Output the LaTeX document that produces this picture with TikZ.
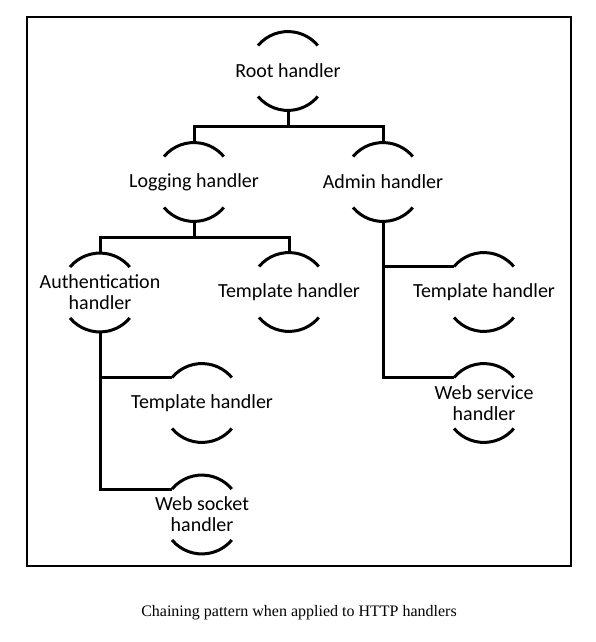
\documentclass[tikz,border=0pt]{standalone}
\usepackage{fontspec}
\setmainfont{Carlito}
\newfontfamily\capfont{Liberation Serif}
\begin{document}
\begin{tikzpicture}[x=1pt,y=1pt,
  lbl/.style={inner sep=0pt,align=center,font=\fontsize{20}{21}\selectfont},
  wire/.style={line width=3pt},
  cup/.style={line width=3pt},
  frame/.style={line width=2pt}]
\useasboundingbox (0,0) rectangle (596,-642);
\newcommand\handler[4]{%
  \node[lbl] (#1) at (#2,#3) {#4};
  \draw[cup] (#2-30,#3+25.5) arc[start angle=140,end angle=40,radius=39pt];
  \draw[cup] (#2-30,#3-25.5) arc[start angle=220,end angle=320,radius=39pt];
  \coordinate (#1-t) at (#2,#3+39.5);
  \coordinate (#1-b) at (#2,#3-39.5);
  \coordinate (#1-l) at (#2-30,#3+25.5);
}
\draw[frame] (26.5,-17.5) rectangle (570.5,-566);
\handler{root}{288}{-71}{Root handler}
\handler{logging}{194}{-182}{Logging handler}
\handler{admin}{383}{-182}{Admin handler}
\handler{auth}{100}{-292.5}{Authentication\\handler}
\handler{tmplA}{289}{-292}{Template handler}
\handler{tmplB}{202}{-403}{Template handler}
\handler{ws}{202}{-514.5}{Web socket\\handler}
\handler{tmplC}{484}{-292}{Template handler}
\handler{wsv}{484}{-403}{Web service\\handler}
\coordinate (j1) at (288,-126);
\coordinate (j2) at (194,-237);
\draw[wire] (root-b) -- (j1);
\draw[wire] (logging-t) |- (j1) -| (admin-t);
\draw[wire] (logging-b) -- (j2);
\draw[wire] (auth-t) |- (j2) -| (tmplA-t);
\draw[wire] (auth-b) |- (tmplB-l);
\draw[wire] (auth-b) |- (ws-l);
\draw[wire] (admin-b) |- (tmplC-l);
\draw[wire] (admin-b) |- (wsv-l);
\node[inner sep=0pt,font=\capfont\fontsize{16}{18}\selectfont] (cap) at (299,-613) {Chaining pattern when applied to HTTP handlers};
\end{tikzpicture}
\end{document}
